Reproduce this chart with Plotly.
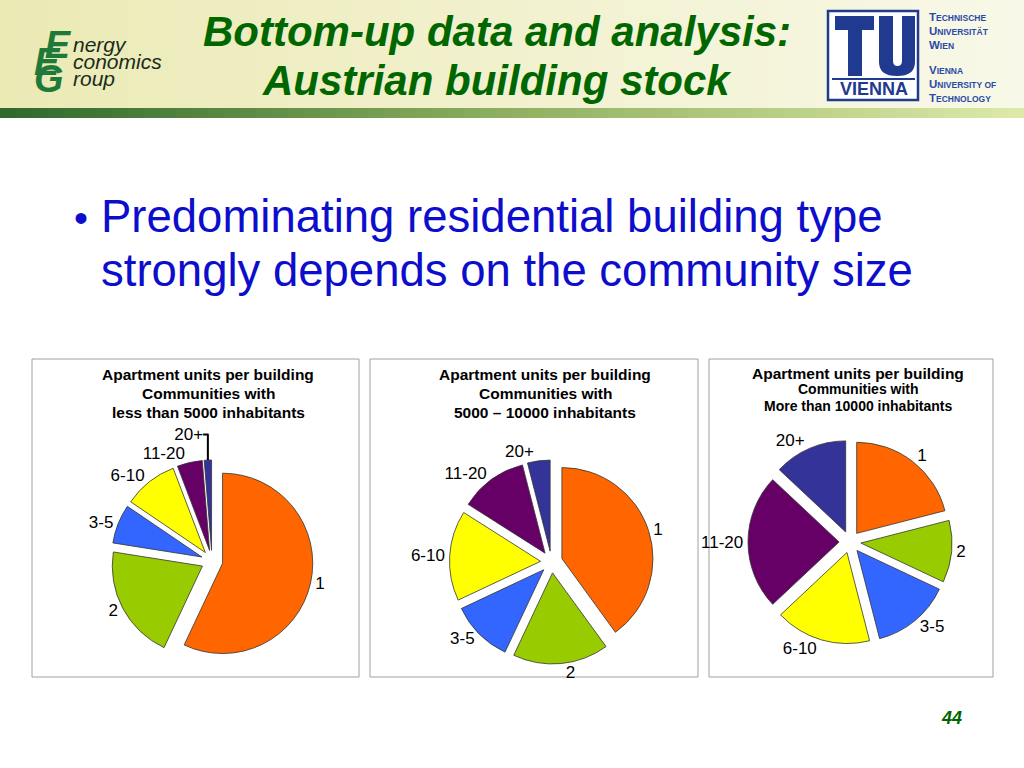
import plotly.graph_objects as go

# ---------------- data ----------------
labels = ["1", "2", "3-5", "6-10", "11-20", "20+"]
small_vals = [57, 20.5, 7, 9.7, 4.5, 1.3]      # < 5000 inhabitants
medium_vals = [40, 17, 11, 16, 12, 4]          # 5000 - 10000 inhabitants
large_vals = [21, 11, 14, 17, 24, 13]          # > 10000 inhabitants
slice_colors = ["#FF6600", "#99CC00", "#3366FF", "#FFFF00", "#660066", "#333399"]

title_lines_1 = ["Apartment units per building", "Communities with", "less than 5000 inhabitants"]
title_lines_2 = ["Apartment units per building", "Communities with", "5000 \u2013 10000 inhabitants"]
title_lines_3 = ["Apartment units per building", "Communities with", "More than 10000 inhabitants"]

W, H = 1024, 768
FONT = "Arial, Liberation Sans, sans-serif"
GREEN = "#006600"
NAVY = "#1f3a8f"


def dom(cx, cy, half):
    return dict(x=[(cx - half) / W, (cx + half) / W],
                y=[1 - (cy + half) / H, 1 - (cy - half) / H])


def hexmix(c1, c2, t):
    a = [int(c1[i:i + 2], 16) for i in (1, 3, 5)]
    b = [int(c2[i:i + 2], 16) for i in (1, 3, 5)]
    return "#%02x%02x%02x" % tuple(round(a[k] + (b[k] - a[k]) * t) for k in range(3))


fig = go.Figure()
# invisible trace so the pixel-based cartesian axes exist
fig.add_trace(go.Scatter(x=[0], y=[0], mode="markers", marker=dict(opacity=0),
                         showlegend=False, hoverinfo="skip"))

pies = [(small_vals, 212, 561, 101), (medium_vals, 551.5, 562, 102), (large_vals, 850, 542, 102)]
for vals, cx, cy, half in pies:
    fig.add_trace(go.Pie(
        labels=labels, values=vals, sort=False, direction="clockwise", rotation=0,
        pull=[0.12] * len(vals), domain=dom(cx, cy, half),
        marker=dict(colors=slice_colors, line=dict(color="#333333", width=0.8)),
        textinfo="label", textposition="outside",
        outsidetextfont=dict(family=FONT, size=17, color="black"),
        showlegend=False, hoverinfo="label+percent"))

shapes = []
annotations = []

# header gradient background
N = 64
for i in range(N):
    shapes.append(dict(type="rect", xref="x", yref="y", x0=i * W / N, x1=(i + 1) * W / N + 0.5,
                       y0=0, y1=108, fillcolor=hexmix("#ebeab5", "#f8f8e8", i / (N - 1)),
                       line=dict(width=0), layer="below"))
for i in range(N):
    t = i / (N - 1)
    c = hexmix("#2f6a2c", "#8fb060", t * 2) if t < 0.5 else hexmix("#8fb060", "#dce9a8", (t - 0.5) * 2)
    shapes.append(dict(type="rect", xref="x", yref="y", x0=i * W / N, x1=(i + 1) * W / N + 0.5,
                       y0=108, y1=118, fillcolor=c, line=dict(width=0), layer="below"))

# chart boxes
for x0, x1 in [(32, 359), (370, 698), (709, 993)]:
    shapes.append(dict(type="rect", xref="x", yref="y", x0=x0, x1=x1, y0=359, y1=677,
                       fillcolor="white", line=dict(color="#a0a0a0", width=1), layer="below"))

# TU logo
shapes.append(dict(type="rect", xref="x", yref="y", x0=828, x1=918, y0=11, y1=100,
                   fillcolor="white", line=dict(color=NAVY, width=2.5), layer="below"))
shapes.append(dict(type="rect", xref="x", yref="y", x0=835, x1=874, y0=16, y1=30,
                   fillcolor=NAVY, line=dict(width=0), layer="below"))
shapes.append(dict(type="rect", xref="x", yref="y", x0=848, x1=862, y0=16, y1=76,
                   fillcolor=NAVY, line=dict(width=0), layer="below"))
shapes.append(dict(type="path", xref="x", yref="y",
                   path="M879,16 L893,16 L893,61 Q893,66 897.5,66 Q902,66 902,61 L902,16 L915,16 "
                        "L915,62 Q915,76 897,76 Q879,76 879,62 Z",
                   fillcolor=NAVY, line=dict(width=0), layer="below"))
shapes.append(dict(type="line", xref="x", yref="y", x0=832, x1=915, y0=79, y1=79,
                   line=dict(color=NAVY, width=2), layer="below"))


def ann(x, y, text, size, color="black", bold=False, italic=False, xanchor="center", family=FONT):
    t = text
    if bold:
        t = "<b>" + t + "</b>"
    if italic:
        t = "<i>" + t + "</i>"
    annotations.append(dict(x=x, y=y, xref="x", yref="y", text=t, showarrow=False,
                            xanchor=xanchor, yanchor="middle",
                            font=dict(family=family, size=size, color=color)))


ann(874, 89, "VIENNA", 18, NAVY, bold=True)

sc = [("T", "ECHNISCHE", 17), ("U", "NIVERSITÄT", 31), ("W", "IEN", 45),
      ("V", "IENNA", 70), ("U", "NIVERSITY OF", 84), ("T", "ECHNOLOGY", 98)]
for first, rest, yy in sc:
    ann(927, yy, first + "<span style='font-size:8.5px'>" + rest + "</span>", 11.5, "#2a4aa5",
        bold=True, xanchor="left")

# EEG logo: block of big initials + block of word endings
big = "<span style='font-size:38px'><b><i>%s</i></b></span>"
initials = "&nbsp;&nbsp;&nbsp;" + big % "E" + "<br>" + big % "E" + "<br>" + big % "G"
annotations.append(dict(x=32, y=62, xref="x", yref="y", text=initials, showarrow=False,
                        xanchor="left", yanchor="middle", align="left",
                        font=dict(family=FONT, size=13, color="#1f7a3a")))
small = "<span style='font-size:21px'><i>%s</i></span>"
words = small % "nergy" + "<br>" + small % "conomics" + "<br>" + small % "roup"
annotations.append(dict(x=71, y=61, xref="x", yref="y", text=words, showarrow=False,
                        xanchor="left", yanchor="middle", align="left",
                        font=dict(family=FONT, size=13, color="#1b2b1b")))

# slide title
ann(497, 31, "Bottom-up data and analysis:", 42, GREEN, bold=True, italic=True)
ann(497, 80, "Austrian building stock", 42, GREEN, bold=True, italic=True)

# bullet text
BLUE = "#0d0dcc"
ann(81, 218, "\u2022", 40, BLUE)
ann(99, 216, "Predominating residential building type", 45.5, BLUE, xanchor="left")
ann(99, 270, "strongly depends on the community size", 45.5, BLUE, xanchor="left")

# chart titles
for cx, lines, ys, sizes in [
    (208, title_lines_1, [374, 393, 412], [15.5, 15.5, 15.5]),
    (545, title_lines_2, [374, 393, 412], [15.5, 15.5, 15.5]),
    (858, title_lines_3, [373, 389, 406], [15.5, 14, 14]),
]:
    for ln, yy, sz in zip(lines, ys, sizes):
        ann(cx, yy, ln, sz, "black", bold=True)

# page number
ann(951, 718, "44", 18, GREEN, bold=True, italic=True)

fig.update_layout(
    width=W, height=H, margin=dict(l=0, r=0, t=0, b=0),
    paper_bgcolor="white", plot_bgcolor="white",
    xaxis=dict(range=[0, W], visible=False, fixedrange=True),
    yaxis=dict(range=[H, 0], visible=False, fixedrange=True),
    shapes=shapes, annotations=annotations, showlegend=False,
    font=dict(family=FONT),
)

fig.write_html("out.html", config={"displayModeBar": False},
               post_script="document.body.style.margin='0';document.body.style.overflow='hidden';")
